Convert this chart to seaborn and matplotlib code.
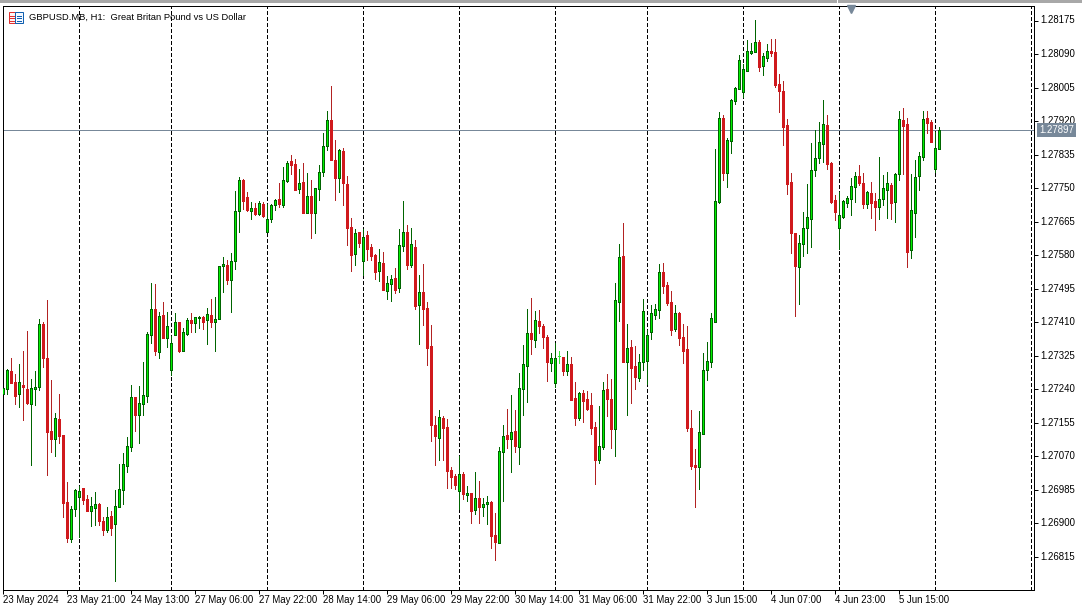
import numpy as np
import pandas as pd
import matplotlib
matplotlib.use("Agg")
import matplotlib.pyplot as plt
from matplotlib.patches import Rectangle
from matplotlib.transforms import ScaledTranslation
import seaborn as sns

# All prices are given in points above 1.26000 (1 point = 0.00001)
highs = [
1251,1292,1319,1279,1304,1337,1388,1266,1286,1418,
1411,1466,1264,1180,1228,1124,1005,944,987,995,
990,972,967,980,952,916,942,932,985,1051,
1079,1119,1251,1221,1248,1309,1385,1510,1507,1436,
1461,1436,1375,1434,1411,1396,1421,1434,1423,1426,
1426,1446,1469,1474,1553,1575,1568,1586,1743,1778,
1773,1740,1715,1712,1717,1715,1710,1710,1723,1763,
1804,1819,1834,1824,1799,1814,1788,1771,1750,1809,
1890,1946,2009,1872,1849,1852,1781,1674,1646,1639,
1646,1641,1608,1583,1596,1588,1527,1530,1548,1646,
1717,1657,1649,1619,1530,1558,1461,1403,1172,1188,
1172,1165,1043,1025,1071,1030,995,977,1030,1008,
965,970,957,926,1094,1150,1190,1226,1188,1281,
1352,1444,1472,1439,1441,1406,1378,1332,1357,1337,
1322,1337,1322,1259,1233,1238,1236,1231,1157,1198,
1259,1279,1266,1510,1608,1662,1406,1365,1350,1330,
1469,1390,1454,1456,1558,1560,1512,1489,1454,1436,
1406,1401,1188,1089,1185,1332,1360,1434,1849,1943,
1935,1877,1976,2006,2088,2065,2126,2118,2176,2126,
2093,2115,2128,2128,2039,2022,1925,1788,1636,1631,
1690,1761,1864,1897,1918,1973,1935,1816,1733,1740,
1720,1730,1776,1791,1809,1788,1743,1766,1738,1829,
1783,1791,1763,1788,1946,1953,1928,1786,1821,1842,
1946,1946,1923,1892,1905]
body_tops = [
1244,1289,1286,1259,1259,1251,1241,1244,1246,1406,
1406,1319,1134,1167,1165,1124,954,937,985,982,
990,962,944,949,949,906,916,919,944,987,
1051,1096,1221,1221,1205,1226,1380,1444,1444,1426,
1428,1401,1357,1411,1411,1385,1416,1416,1423,1423,
1423,1431,1428,1418,1553,1558,1555,1565,1692,1771,
1771,1728,1700,1700,1712,1710,1672,1707,1720,1723,
1771,1814,1819,1811,1763,1766,1730,1730,1750,1791,
1857,1923,1923,1821,1847,1844,1761,1652,1636,1639,
1626,1631,1601,1581,1563,1560,1510,1520,1522,1606,
1639,1639,1608,1601,1487,1487,1446,1350,1150,1170,
1167,1145,1036,1020,1025,1025,977,977,965,965,
949,954,954,871,1084,1122,1124,1132,1134,1244,
1304,1383,1383,1416,1413,1401,1373,1319,1319,1325,
1322,1304,1304,1218,1231,1231,1216,1200,1145,1096,
1238,1241,1216,1466,1575,1578,1345,1347,1299,1309,
1439,1378,1434,1444,1537,1537,1505,1461,1434,1434,
1373,1342,1142,1048,1132,1289,1312,1421,1717,1928,
1928,1872,1973,2004,2075,2052,2098,2098,2120,2120,
2085,2098,2098,2095,2014,1996,1910,1766,1636,1611,
1649,1677,1796,1826,1867,1913,1910,1814,1720,1682,
1717,1725,1755,1781,1781,1763,1740,1738,1717,1723,
1750,1763,1758,1786,1925,1923,1913,1695,1778,1832,
1925,1928,1918,1852,1897]
body_bottoms = [
1228,1241,1256,1223,1228,1246,1205,1203,1241,1246,
1319,1132,1114,1114,1122,952,863,861,937,967,
959,932,932,939,906,883,883,888,899,942,
985,1046,1094,1175,1175,1203,1223,1378,1337,1335,
1370,1370,1289,1378,1337,1337,1380,1408,1408,1421,
1411,1416,1411,1411,1418,1553,1517,1517,1565,1692,
1717,1695,1692,1685,1685,1679,1639,1672,1707,1710,
1707,1768,1809,1745,1748,1687,1687,1687,1687,1748,
1791,1857,1821,1776,1776,1763,1649,1581,1583,1611,
1565,1596,1578,1537,1540,1492,1489,1507,1492,1497,
1603,1555,1555,1451,1454,1444,1345,1150,1122,1117,
1142,1033,1018,998,982,975,972,932,934,942,
942,949,868,853,850,1081,1114,1114,1096,1094,
1241,1299,1368,1365,1401,1373,1309,1307,1256,1325,
1286,1286,1213,1167,1167,1210,1190,1142,1061,1061,
1094,1216,1139,1139,1461,1309,1309,1294,1271,1269,
1309,1312,1385,1428,1441,1502,1459,1390,1393,1370,
1337,1142,1046,1043,1043,1127,1289,1309,1411,1715,
1788,1788,1870,1971,2001,1994,2047,2093,2095,2057,
2060,2080,2093,2012,1996,1905,1761,1636,1553,1550,
1608,1649,1672,1796,1826,1862,1811,1715,1690,1649,
1677,1712,1723,1753,1763,1710,1710,1712,1702,1702,
1723,1745,1712,1715,1786,1908,1588,1593,1687,1781,
1829,1915,1867,1799,1849]
lows = [
1226,1228,1256,1203,1195,1162,1203,1048,1200,1238,
1297,1023,1081,1071,1104,916,853,853,919,866,
949,932,894,896,896,871,878,871,754,942,
949,1030,1084,1134,1104,1175,1208,1357,1327,1319,
1370,1347,1276,1378,1335,1337,1378,1385,1385,1396,
1393,1355,1398,1337,1418,1487,1507,1436,1545,1639,
1697,1692,1672,1682,1682,1677,1639,1664,1695,1702,
1702,1766,1786,1745,1738,1687,1687,1624,1636,1720,
1781,1847,1821,1720,1740,1707,1606,1540,1555,1601,
1530,1568,1568,1520,1515,1492,1469,1464,1484,1487,
1591,1545,1550,1444,1355,1403,1302,1109,1048,1061,
1061,990,990,987,937,962,957,901,924,901,
919,899,838,807,850,957,1091,1030,1081,1051,
1175,1208,1330,1347,1383,1345,1261,1286,1246,1307,
1276,1276,1213,1150,1162,1157,1188,1127,1000,1053,
1089,1172,1091,1071,1413,1309,1175,1205,1241,1261,
1289,1254,1368,1418,1421,1484,1454,1378,1388,1352,
1307,1134,1038,942,987,1127,1264,1297,1411,1712,
1771,1753,1839,1963,2001,1981,2047,2090,2095,2047,
2037,2072,2085,2006,1943,1859,1735,1586,1426,1456,
1578,1586,1601,1781,1814,1816,1799,1712,1669,1596,
1674,1702,1682,1715,1758,1700,1700,1674,1644,1672,
1707,1674,1672,1664,1771,1786,1550,1573,1626,1745,
1821,1890,1867,1791,1849]
directions = (
"UUDDUDDUUU" "DDDUDDDUUU" "DDUUDDUDUU" "UUUDUUUUDU" "DUUUDUUDUU"
"DUDUUUDUUU" "DDUDUDUUUD" "UUDDUDUDUU" "UUDDUDDDUD" "UDDDUDUUDU"
"UDUDUDDDDU" "DDDDUDUDUD" "UUDDUUDUDU" "UUDUDDDUUF" "DUDDUDDDDU"
"UDDUUDUDDU" "UUUUUDDDUD" "DDDDUUUUUU" "DUUUUUUUUD" "UUDDDDDDDU"
"UUUUUUDDDU" "UUUUDDUDDU" "UUDUUDDUUU" "UDDUU")

date_labels = ["23 May 2024", "23 May 21:00", "24 May 13:00", "27 May 06:00",
               "27 May 22:00", "28 May 14:00", "29 May 06:00", "29 May 22:00",
               "30 May 14:00", "31 May 06:00", "31 May 22:00", "3 Jun 15:00",
               "4 Jun 07:00", "4 Jun 23:00", "5 Jun 15:00"]
label_bars = [0, 16, 32, 48, 64, 80, 96, 112, 128, 144, 160, 176, 192, 208, 224]
session_bars = [19, 42, 66, 90, 114, 138, 161, 185, 209, 233, 257]
price_ticks = [1.26815, 1.26900, 1.26985, 1.27070, 1.27155, 1.27240, 1.27325, 1.27410,
               1.27495, 1.27580, 1.27665, 1.27750, 1.27835, 1.27920, 1.28005, 1.28090, 1.28175]
current_price = 1.27897
title = "GBPUSD.MB, H1:  Great Britan Pound vs US Dollar"

PRICE_BASE, POINT = 1.26, 1e-5
W, H = 1082, 610
PX = 0.72  # one pixel in points at 100 dpi

sns.set_style("white")
plt.rcParams["font.family"] = ["Liberation Sans", "DejaVu Sans"]
FS = 6.9

n = len(highs)
bars = np.arange(n)
to_price = lambda a: PRICE_BASE + np.asarray(a, float) * POINT

wicks = pd.DataFrame({
    "bar": np.r_[bars, bars],
    "price": np.r_[to_price(highs), to_price(lows)],
    "dir": list(directions) * 2,
})

fig = plt.figure(figsize=(W / 100, H / 100), dpi=100, facecolor="white")
ax = fig.add_axes([3.0 / W, 1 - 590.0 / H, 1031 / W, 584 / H])

SLATE = "#778899"
for b in session_bars:
    ax.axvline(b, color="black", lw=PX, dashes=(3.5, 2.5), zorder=1, antialiased=False)
ax.axhline(current_price, color=SLATE, lw=PX, zorder=1.2, antialiased=False)

sns.lineplot(data=wicks, x="bar", y="price", units="bar", estimator=None, hue="dir",
             palette={"U": "#006400", "D": "#B22222", "F": "#32E632"}, hue_order=["U", "D", "F"],
             sort=False, lw=PX, legend=False, ax=ax, zorder=2, antialiased=False,
             solid_capstyle="butt")

tops = to_price(body_tops)
bots = to_price(body_bottoms)
for key, face, edge in [("U", "#00F000", "#006400"), ("D", "#D0191D", "#D0191D"), ("F", "#32E632", "#32E632")]:
    m = np.array([d == key for d in directions])
    ax.bar(bars[m], (tops - bots)[m], bottom=bots[m], width=0.5, color=face,
           edgecolor=edge, linewidth=PX, zorder=3, antialiased=False)

ax.set_xlim(0, 1031 / 4)
ax.set_ylim(1.26731, 1.28212)
ax.set_xlabel("")
ax.set_ylabel("")
ax.set_xticks(label_bars)
ax.set_xticklabels(date_labels, ha="left", fontsize=FS, color="black")
ax.yaxis.tick_right()
ax.set_yticks(price_ticks)
ax.set_yticklabels([f"{p:.5f}" for p in price_ticks], fontsize=FS, color="black")
ax.tick_params(axis="both", which="major", length=3, width=PX, color="black", left=False, bottom=True, right=True)
ax.tick_params(axis="x", pad=0.4)
ax.tick_params(axis="y", pad=1.2)
for lab in ax.get_yticklabels():
    lab.set_transform(lab.get_transform() + ScaledTranslation(0, 0.8 / 72, fig.dpi_scale_trans))
for s in ax.spines.values():
    s.set_color("black")
    s.set_linewidth(PX)

# current price tag on the price axis
ax.annotate(f"{current_price:.5f}", xy=(1, current_price), xycoords=("axes fraction", "data"),
            xytext=(3.6, 0), textcoords="offset points", ha="left", va="center", fontsize=FS,
            color="white", bbox=dict(boxstyle="square,pad=0.22", fc=SLATE, ec="none"),
            annotation_clip=False, zorder=5)

# chart shift marker at the top of the plot
ax.plot([212], [0.9955], marker="v", ms=5.6, color=SLATE, mec=SLATE,
        transform=ax.get_xaxis_transform(), clip_on=False, zorder=5)

# title and icon
fig.text(29 / W, 1 - 17.5 / H, title, fontsize=6.75, va="center", ha="left", color="black")
def px_rect(x, y, w, h, **kw):
    fig.add_artist(Rectangle((x / W, 1 - (y + h) / H), w / W, h / H, transform=fig.transFigure, **kw))
px_rect(8.5, 12.5, 7, 10, fc="#FFF4F4", ec="#E03030", lw=PX)
px_rect(15.5, 12.5, 7, 10, fc="#F4F8FF", ec="#1060B0", lw=PX)
for yy in (15.5, 18, 20.5):
    px_rect(9.5, yy, 5, 1, fc="#E03030", ec="none")
    px_rect(16.5, yy, 5, 1, fc="#1060B0", ec="none")

# window frame band at the top
px_rect(0, 0, W, 3, fc="#A8A8A8", ec="none")
px_rect(837, 0, 1, 3, fc="white", ec="none")

fig.savefig("out.png", dpi=100, facecolor="white")
